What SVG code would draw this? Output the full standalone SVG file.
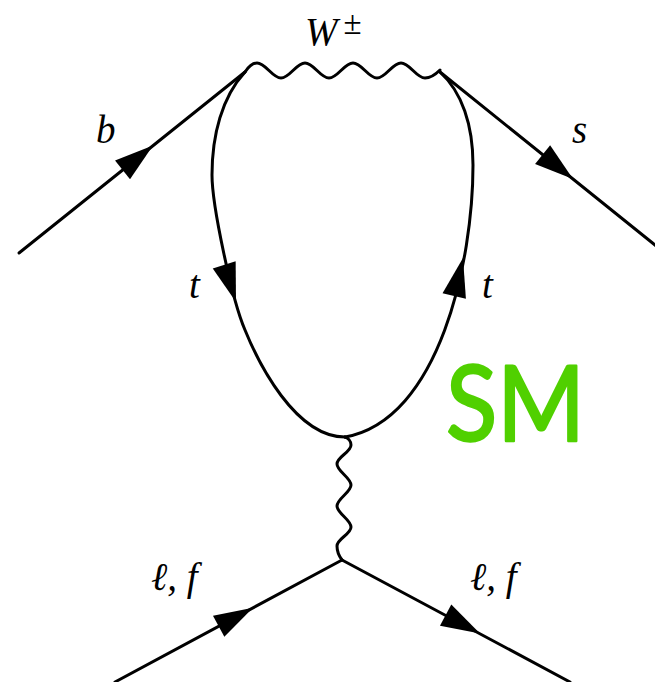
<svg xmlns="http://www.w3.org/2000/svg" xmlns:xlink="http://www.w3.org/1999/xlink" width="655" height="682" viewBox="0 0 655 682">
<style>
.ln{fill:none;stroke:#000;stroke-width:3;stroke-linecap:round;stroke-linejoin:round}
.ah{fill:#000;stroke:none}
.lbl{font-family:"Liberation Serif","DejaVu Serif",serif;font-style:italic;font-size:39px;fill:#000}
.sm{font-family:Lato,"Open Sans",sans-serif;font-size:105px;fill:#50D000;stroke:#50D000;stroke-width:2.5;stroke-linejoin:round}
</style>
<defs>
<path id="arrow" class="ah" d="M0,0 L-39,-12 L-39,12 Z"/>
</defs>
<rect width="655" height="682" fill="#fff"/>
<g id="connectors">
<path id="b-line" class="ln" d="M19,253 L245,72"/>
<path id="s-line" class="ln" d="M440,72 L656,245.8"/>
<path id="W-boson" class="ln" d="M245,72 C249,66 252,63 257,63 C265.7,63 272.3,78 281,78 C289.7,78 296.3,63 305,63 C313.7,63 320.3,78 329,78 C337.7,78 344.3,63 353,63 C361.7,63 368.3,78 377,78 C385.7,78 392.3,63 401,63 C409.7,63 416.3,78 425,78 C431,78 436,74 440,70"/>
<path id="t-left" class="ln" d="M245,72 C222,97 212,135 212,175 C212,205 232,300 245,330 C258,362 295,437 345,437"/>
<path id="t-right" class="ln" d="M440,72 C462,92 473,125 473,165 C473,260 440,420 345,437"/>
<path id="photon" class="ln" d="M345,437 C348,438 351,441 351,445 C351,452.3 337,456.7 337,464 C337,471.3 351,477.7 351,485 C351,492.3 337,498.7 337,506 C337,513.3 351,519.7 351,527 C351,534.3 337,538.7 337,546 C337,551 339,556 342,560"/>
<path id="lf-in" class="ln" d="M115,682 L342,560"/>
<path id="lf-out" class="ln" d="M342,560 L570,682"/>
</g>
<g id="arrows">
<use xlink:href="#arrow" transform="translate(153,145.5) rotate(-38.6)"/>
<use xlink:href="#arrow" transform="translate(573,179) rotate(38.8)"/>
<use xlink:href="#arrow" transform="translate(236,302) rotate(72.4)"/>
<use xlink:href="#arrow" transform="translate(463,258) rotate(-77)"/>
<use xlink:href="#arrow" transform="translate(253,607.8) rotate(-28.3)"/>
<use xlink:href="#arrow" transform="translate(480,633.5) rotate(28.2)"/>
</g>
<g id="label-W"><text class="lbl" x="305" y="45">W<tspan font-size="33" font-style="normal" dx="6" dy="-11">±</tspan></text></g>
<g id="label-b"><text class="lbl" x="96" y="143">b</text></g>
<g id="label-s"><text class="lbl" x="572" y="143">s</text></g>
<g id="label-t-left"><text class="lbl" x="189" y="298">t</text></g>
<g id="label-t-right"><text class="lbl" x="482" y="298">t</text></g>
<g id="label-lf-left"><text class="lbl" x="151" y="590">ℓ, f</text></g>
<g id="label-lf-right"><text class="lbl" x="470" y="590">ℓ, f</text></g>
<g id="label-SM"><text class="sm" x="446" y="441" textLength="139" lengthAdjust="spacingAndGlyphs">SM</text></g>
</svg>
